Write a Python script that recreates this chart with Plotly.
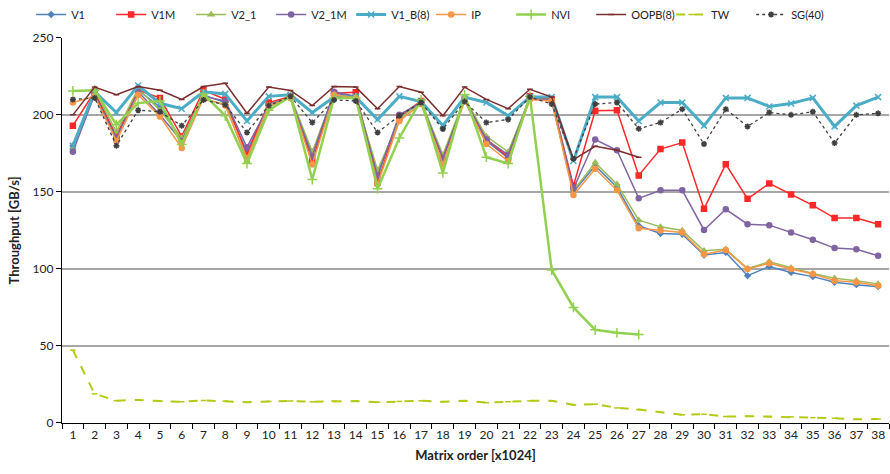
import plotly.graph_objects as go

x = list(range(1, 39))

V1 = [180, 214, 186, 216, 205, 184, 213, 208, 176, 207, 211, 175, 214, 212, 162, 198, 208, 172, 210, 183, 172, 211, 210,
      150, 167, 153, 128, 123, 122.5, 109, 110.7, 95.6, 101.6, 97.7, 95, 91.3, 89.8, 88.5]
V1M = [193, 215, 186, 216, 211, 186, 216, 210, 174, 208, 212, 170, 214, 214.7, 156, 199, 209, 171, 210, 184, 172.7, 212, 210,
       154, 202.6, 203, 160.7, 177.8, 182, 139, 168, 145.5, 155.5, 148.3, 141.3, 133, 133, 129]
V2_1 = [178, 216, 189, 217, 203, 185, 210, 207, 170, 205, 212, 176, 213, 211, 164, 197, 209, 174, 211, 186, 176, 211, 209,
        151, 169, 155, 131.6, 127.3, 125, 111.8, 112.8, 100.3, 104.6, 100.6, 97, 93.9, 92.4, 90.2]
V2_1M = [176, 213, 185, 215, 200, 183, 212, 209, 179, 206, 211, 173, 215, 212, 160, 200, 208, 172, 210, 184, 174, 211, 209,
         152, 184, 177, 145.8, 151, 151, 125.3, 138.7, 129, 128.4, 123.6, 118.9, 113.5, 112.8, 108.5]
V1_B8 = [180, 215, 201.5, 219, 207.5, 204, 215, 213.6, 196, 212, 213, 201.5, 211.5, 211.5, 197, 212, 208.6, 193, 211.5, 208, 199.4, 211.5, 211.5,
         170, 211.5, 211.5, 196, 208, 208, 193, 211, 211, 205.4, 207.4, 211, 192.5, 206, 211.5]
IP = [208, 212, 183, 213, 199, 178.5, 211, 206, 172, 206, 211, 167.7, 213, 211, 155, 196, 207, 168, 209, 181, 170, 210, 209,
      148, 165, 151, 126.4, 125, 123.6, 109.6, 112.2, 100, 103.6, 100, 96.7, 92.4, 91.3, 89.1]
NVI = [215.5, 216, 193.6, 207.6, 209, 180.7, 213.6, 199.4, 168.4, 203, 212, 158, 211, 211, 152, 185, 209.7, 162.3, 213, 172.5, 168.4, 212, 99.3,
       75, 60.5, 58.5, 57.5]
OOPB8 = [200, 218, 213, 218.4, 216, 210, 218.4, 220.5, 201, 218, 215.8, 206, 218.4, 218, 204, 218.4, 214.7, 199.4, 218, 210, 204, 216.6, 211.5,
         171, 179.6, 177, 172.5]
TW = [47.3, 18.9, 14.5, 15, 14.2, 13.8, 14.6, 14.2, 13.5, 14, 14.3, 13.8, 14.2, 14.2, 13.5, 14, 14.4, 13.8, 14.4, 13.2, 13.8, 14.4, 14.4,
      11.8, 12.2, 9.8, 8.7, 7, 5.3, 5.7, 4.2, 4.4, 4.2, 4, 3.5, 3.1, 2.4, 2.6]
SG40 = [210, 211, 180, 203, 202, 193, 209.7, 206.5, 188.6, 206, 212, 195, 209.7, 209, 188.6, 199.4, 208, 190.8, 208.6, 195, 197, 211.5, 207,
        171.4, 207, 208, 191, 195, 203.7, 181, 203.7, 192.5, 201.5, 200, 202, 181.7, 200, 201]

series = [
    ("V1", V1, "#4F81BD", 1.5, "solid", "diamond", 4),
    ("V1M", V1M, "#FF2828", 1.5, "solid", "square", 5),
    ("V2_1", V2_1, "#9BBB59", 1.5, "solid", "triangle-up", 5),
    ("V2_1M", V2_1M, "#8064A2", 1.5, "solid", "circle", 5),
    ("V1_B(8)", V1_B8, "#4BACC6", 3, "solid", "x-thin-open", 6),
    ("IP", IP, "#F79646", 1.5, "solid", "circle", 5),
    ("NVI", NVI, "#92D050", 2.5, "solid", "cross-thin-open", 7),
    ("OOPB(8)", OOPB8, "#7B2C2C", 1.5, "solid", "line-ew-open", 4),
    ("TW", TW, "#B5C914", 2, "dash", "line-ew-open", 4),
    ("SG(40)", SG40, "#404040", 1.3, "dot", "asterisk-open", 5),
]

fig = go.Figure()
for name, vals, color, w, dash, sym, ms in series:
    fig.add_trace(go.Scatter(
        x=x[:len(vals)], y=vals, name=name, mode="lines+markers",
        line=dict(color=color, width=w, dash=dash),
        marker=dict(symbol=sym, size=ms, color=color, line=dict(color=color, width=1.5)),
    ))

font = "Lato, 'Open Sans', sans-serif"
fig.update_layout(
    width=890, height=474,
    margin=dict(l=62, r=1, t=36, b=51),
    paper_bgcolor="white", plot_bgcolor="white",
    font=dict(family=font, size=12, color="#222"),
    legend=dict(orientation="h", x=0.035, xanchor="left", y=1.0, yanchor="top",
                yref="container", xref="container", font=dict(size=11),
                itemwidth=30, tracegroupgap=0, entrywidth=35),
    showlegend=True,
)
fig.update_xaxes(
    range=[0.5, 38.5], tickvals=x, ticktext=[str(v) for v in x],
    showgrid=False, showline=True, linecolor="#000", linewidth=1.2,
    ticks="", zeroline=False,
    minor=dict(tickvals=[v + 0.5 for v in range(0, 39)], ticks="outside", ticklen=5, tickcolor="#000", showgrid=False),
    title=dict(text="<b>Matrix order [x1024]</b>", font=dict(size=13), standoff=10),
    tickfont=dict(size=12),
)
fig.update_yaxes(
    range=[0, 250], tickvals=[0, 50, 100, 150, 200, 250],
    showgrid=True, gridcolor="#A6A6A6", gridwidth=1.5,
    showline=True, linecolor="#000", linewidth=1.2,
    ticks="outside", ticklen=5, tickcolor="#000", zeroline=False,
    title=dict(text="<b>Throughput [GB/s]</b>", font=dict(size=13), standoff=10),
    tickfont=dict(size=12),
)

fig.write_html("out.html")
